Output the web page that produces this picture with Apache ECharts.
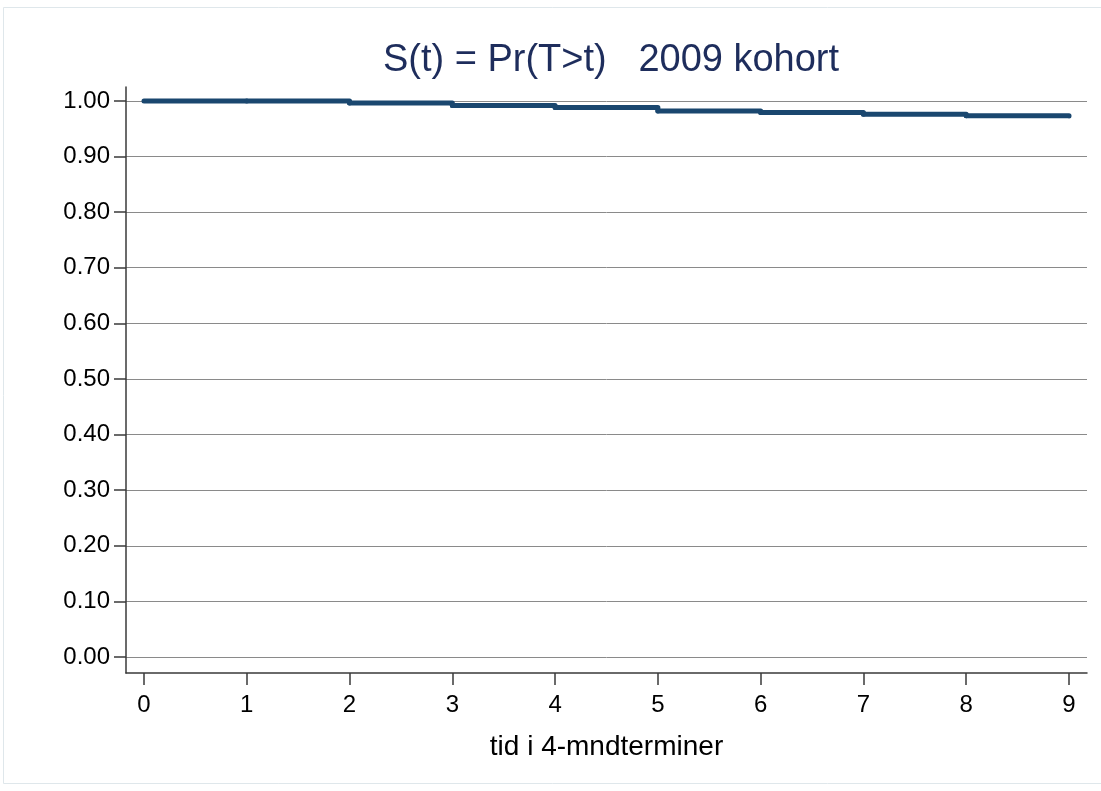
<!DOCTYPE html>
<html>
<head>
<meta charset="utf-8">
<script src="https://cdn.jsdelivr.net/npm/echarts@6/dist/echarts.min.js"></script>
<style>
html,body{margin:0;padding:0;background:#fff;}
#chart{width:1101px;height:791px;}
</style>
</head>
<body>
<div id="chart"></div>
<script>
const times = [0, 1, 2, 3, 4, 5, 6, 7, 8, 9];
const survival = [1.000, 0.9998, 0.9964, 0.9919, 0.9883, 0.9820, 0.9790, 0.9762, 0.9735, 0.9730];
const yTicks = [0, 0.1, 0.2, 0.3, 0.4, 0.5, 0.6, 0.7, 0.8, 0.9, 1.0];
const xTicks = [0, 1, 2, 3, 4, 5, 6, 7, 8, 9];
const titleText = 'S(t) = Pr(T>t)   2009 kohort';
const xTitle = 'tid i 4-mndterminer';

// one item per step: [tStart, tEnd, value, nextValue]
const steps = [];
for (let i = 0; i < times.length - 1; i++) {
  steps.push([times[i], times[i + 1], survival[i], survival[i + 1]]);
}

const chart = echarts.init(document.getElementById('chart'), null, {renderer: 'canvas'});
const font = 'Liberation Sans, Arial, sans-serif';
const lineColor = '#1a476f';
chart.setOption({
  animation: false,
  backgroundColor: '#ffffff',
  graphic: [{
    type: 'rect', silent: true,
    shape: {x: 3.5, y: 7.5, width: 1110, height: 776},
    style: {fill: 'none', stroke: '#dfe7eb', lineWidth: 1}
  }],
  title: {
    text: titleText, left: 606, top: 37, textAlign: 'center',
    textStyle: {fontFamily: font, fontSize: 38, fontWeight: 'normal', color: '#1e2d5c'}
  },
  grid: {left: 126, right: 14, top: 87, bottom: 118, containLabel: false},
  xAxis: {
    type: 'value', min: -0.175, max: 9.175,
    name: xTitle, nameLocation: 'middle', nameGap: 60,
    nameTextStyle: {fontFamily: font, fontSize: 28, color: '#000'},
    axisLine: {show: true, onZero: false, lineStyle: {color: '#3a3a3a', width: 1.5}},
    axisTick: {show: true, length: 12, customValues: xTicks, lineStyle: {color: '#3a3a3a', width: 1.5}},
    axisLabel: {customValues: xTicks, margin: 20, fontFamily: font, fontSize: 24, color: '#000',
      formatter: v => String(v)},
    splitLine: {show: false}
  },
  yAxis: {
    type: 'value', min: -0.0288, max: 1.025,
    axisLine: {show: true, onZero: false, lineStyle: {color: '#3a3a3a', width: 1.5}},
    axisTick: {show: true, length: 12, customValues: yTicks, lineStyle: {color: '#3a3a3a', width: 1.5}},
    axisLabel: {customValues: yTicks, margin: 16, fontFamily: font, fontSize: 24, color: '#000',
      formatter: v => v.toFixed(2)},
    splitLine: {show: true, lineStyle: {color: '#8a8a8a', width: 1}}
  },
  series: [{
    type: 'custom',
    coordinateSystem: 'cartesian2d',
    encode: {x: [0, 1], y: [2, 3]},
    data: steps,
    renderItem: function (params, api) {
      const t0 = api.value(0), t1 = api.value(1), v = api.value(2), vn = api.value(3);
      const p0 = api.coord([t0, v]);
      const p1 = api.coord([t1, v]);
      const p2 = api.coord([t1, vn]);
      return {
        type: 'polyline',
        shape: {points: [p0, p1, p2]},
        style: {stroke: lineColor, lineWidth: 5, fill: 'none', lineCap: 'round', lineJoin: 'round'}
      };
    }
  }]
});
</script>
</body>
</html>
